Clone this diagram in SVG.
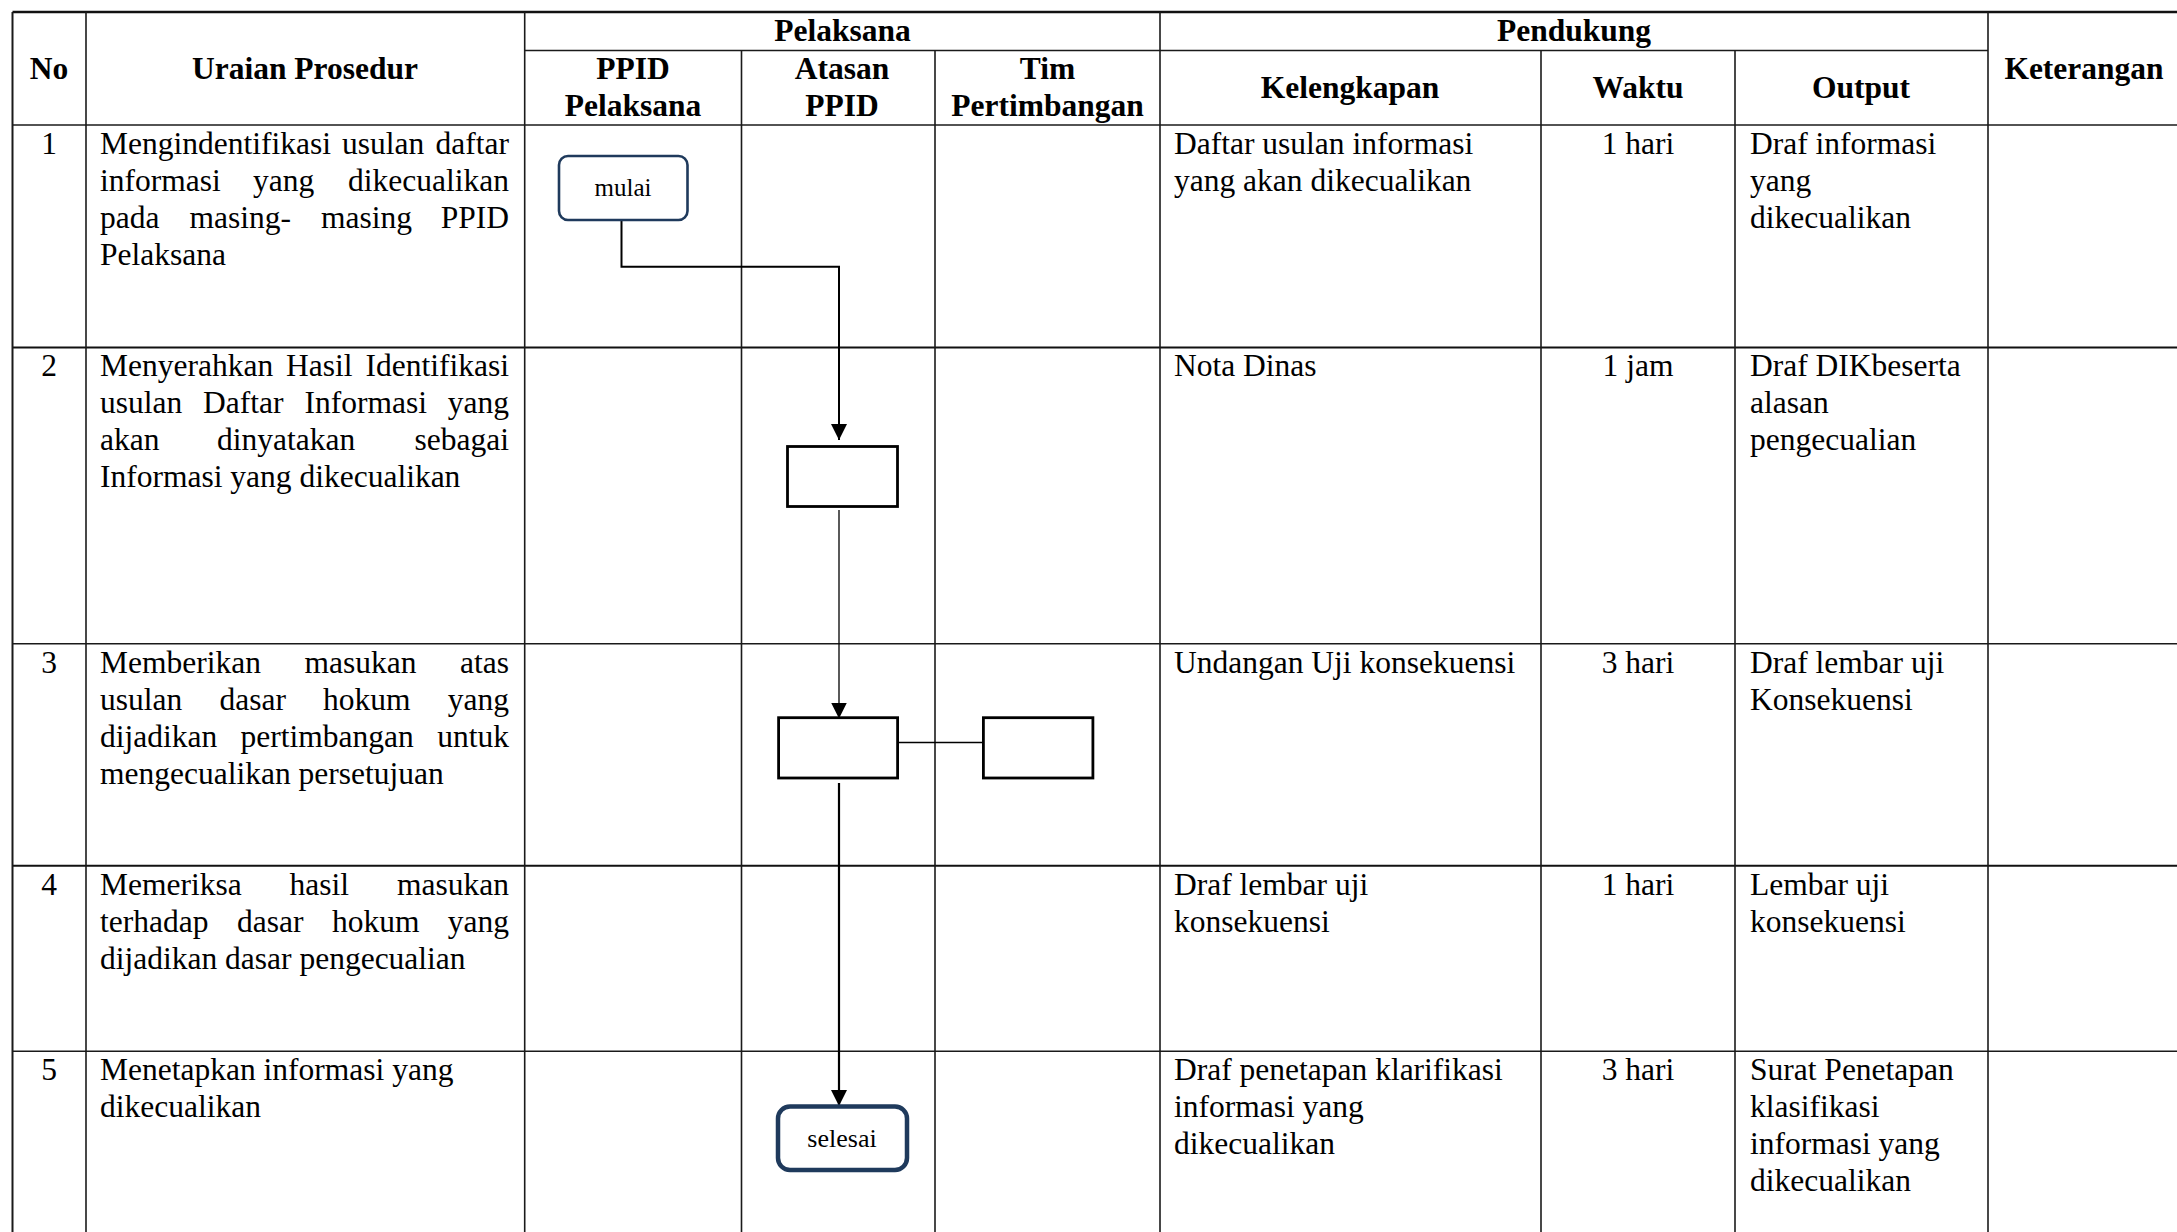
<svg xmlns="http://www.w3.org/2000/svg" width="2177" height="1232" viewBox="0 0 2177 1232">
<style>
.bg{fill:#fff}
.g{stroke:#1a1a1a;stroke-width:1.6;fill:none}
.gt{stroke:#111;stroke-width:2.6;fill:none}
.t{font-family:"Liberation Serif","Times New Roman",serif;font-size:31.5px;fill:#000}
.h{font-family:"Liberation Serif","Times New Roman",serif;font-size:31.5px;font-weight:700;fill:#000;text-anchor:middle}
.c{text-anchor:middle}
.r{text-anchor:end}
.box{fill:#fff;stroke:#000;stroke-width:2.8}
.term{fill:#fff;stroke:#1f3a5c}
.lbl{font-family:"Liberation Serif","Times New Roman",serif;fill:#000;text-anchor:middle}
.con{fill:none;stroke:#000}
</style>
<defs>
<marker id="arr" markerUnits="userSpaceOnUse" markerWidth="16" markerHeight="16" viewBox="0 0 16 16" refX="16" refY="8" orient="auto">
<path d="M0,0 L16,8 L0,16 z" fill="#000"/>
</marker>
</defs>
<rect class="bg" x="0" y="0" width="2177" height="1232"/>

<g id="grid">
<line class="gt" x1="12.5" y1="12" x2="2177" y2="12"/>
<line class="g" x1="525" y1="50.5" x2="1988" y2="50.5"/>
<line class="g" x1="12.5" y1="125" x2="2177" y2="125"/>
<line class="gt" x1="12.5" y1="347.6" x2="2177" y2="347.6" style="stroke-width:2"/>
<line class="g" x1="12.5" y1="643.7" x2="2177" y2="643.7"/>
<line class="gt" x1="12.5" y1="865.7" x2="2177" y2="865.7" style="stroke-width:2"/>
<line class="g" x1="12.5" y1="1051.3" x2="2177" y2="1051.3"/>
<line class="g" x1="12.5" y1="12" x2="12.5" y2="1232" style="stroke-width:2"/>
<line class="g" x1="86" y1="12" x2="86" y2="1232"/>
<line class="g" x1="524.7" y1="12" x2="524.7" y2="1232"/>
<line class="g" x1="741.5" y1="50.5" x2="741.5" y2="1232"/>
<line class="g" x1="935" y1="50.5" x2="935" y2="1232"/>
<line class="g" x1="1160" y1="12" x2="1160" y2="1232"/>
<line class="g" x1="1541" y1="50.5" x2="1541" y2="1232"/>
<line class="g" x1="1735" y1="50.5" x2="1735" y2="1232"/>
<line class="g" x1="1988" y1="12" x2="1988" y2="1232"/>
</g>

<g id="header">
<text class="h" x="49" y="79">No</text>
<text class="h" x="305" y="79">Uraian Prosedur</text>
<text class="h" x="842.5" y="41">Pelaksana</text>
<text class="h" x="1574" y="41">Pendukung</text>
<text class="h" x="633" y="79">PPID</text>
<text class="h" x="633" y="116">Pelaksana</text>
<text class="h" x="842" y="79">Atasan</text>
<text class="h" x="842" y="116">PPID</text>
<text class="h" x="1047.5" y="79">Tim</text>
<text class="h" x="1047.5" y="116">Pertimbangan</text>
<text class="h" x="1350" y="98">Kelengkapan</text>
<text class="h" x="1638" y="98">Waktu</text>
<text class="h" x="1861" y="98">Output</text>
<text class="h" x="2084" y="79">Keterangan</text>
</g>

<g id="row1">
<text class="t c" x="49" y="154">1</text>
<text class="t" y="154"><tspan x="100">Mengindentifikasi</tspan><tspan x="342">usulan</tspan><tspan x="509" class="r">daftar</tspan></text>
<text class="t" y="191"><tspan x="100">informasi</tspan><tspan x="253">yang</tspan><tspan x="509" class="r">dikecualikan</tspan></text>
<text class="t" y="228"><tspan x="100">pada</tspan><tspan x="189.5">masing-</tspan><tspan x="321">masing</tspan><tspan x="509" class="r">PPID</tspan></text>
<text class="t" x="100" y="265">Pelaksana</text>
<text class="t" x="1174" y="154">Daftar usulan informasi</text>
<text class="t" x="1174" y="191">yang akan dikecualikan</text>
<text class="t c" x="1638" y="154">1 hari</text>
<text class="t" x="1750" y="154">Draf informasi</text>
<text class="t" x="1750" y="191">yang</text>
<text class="t" x="1750" y="228">dikecualikan</text>
</g>

<g id="row2">
<text class="t c" x="49" y="376">2</text>
<text class="t" y="376"><tspan x="100">Menyerahkan</tspan><tspan x="286">Hasil</tspan><tspan x="509" class="r">Identifikasi</tspan></text>
<text class="t" y="413"><tspan x="100">usulan</tspan><tspan x="203">Daftar</tspan><tspan x="304.5">Informasi</tspan><tspan x="509" class="r">yang</tspan></text>
<text class="t" y="450"><tspan x="100">akan</tspan><tspan x="217">dinyatakan</tspan><tspan x="509" class="r">sebagai</tspan></text>
<text class="t" x="100" y="487">Informasi yang dikecualikan</text>
<text class="t" x="1174" y="376">Nota Dinas</text>
<text class="t c" x="1638" y="376">1 jam</text>
<text class="t" x="1750" y="376">Draf DIKbeserta</text>
<text class="t" x="1750" y="413">alasan</text>
<text class="t" x="1750" y="450">pengecualian</text>
</g>

<g id="row3">
<text class="t c" x="49" y="673">3</text>
<text class="t" y="673"><tspan x="100">Memberikan</tspan><tspan x="304.5">masukan</tspan><tspan x="509" class="r">atas</tspan></text>
<text class="t" y="710"><tspan x="100">usulan</tspan><tspan x="219.5">dasar</tspan><tspan x="323">hokum</tspan><tspan x="509" class="r">yang</tspan></text>
<text class="t" y="747"><tspan x="100">dijadikan</tspan><tspan x="240.5">pertimbangan</tspan><tspan x="509" class="r">untuk</tspan></text>
<text class="t" x="100" y="784">mengecualikan persetujuan</text>
<text class="t" x="1174" y="673">Undangan Uji konsekuensi</text>
<text class="t c" x="1638" y="673">3 hari</text>
<text class="t" x="1750" y="673">Draf lembar uji</text>
<text class="t" x="1750" y="710">Konsekuensi</text>
</g>

<g id="row4">
<text class="t c" x="49" y="895">4</text>
<text class="t" y="895"><tspan x="100">Memeriksa</tspan><tspan x="289.5">hasil</tspan><tspan x="509" class="r">masukan</tspan></text>
<text class="t" y="932"><tspan x="100">terhadap</tspan><tspan x="237">dasar</tspan><tspan x="332">hokum</tspan><tspan x="509" class="r">yang</tspan></text>
<text class="t" x="100" y="969">dijadikan dasar pengecualian</text>
<text class="t" x="1174" y="895">Draf lembar uji</text>
<text class="t" x="1174" y="932">konsekuensi</text>
<text class="t c" x="1638" y="895">1 hari</text>
<text class="t" x="1750" y="895">Lembar uji</text>
<text class="t" x="1750" y="932">konsekuensi</text>
</g>

<g id="row5">
<text class="t c" x="49" y="1080">5</text>
<text class="t" x="100" y="1080">Menetapkan informasi yang</text>
<text class="t" x="100" y="1117">dikecualikan</text>
<text class="t" x="1174" y="1080">Draf penetapan klarifikasi</text>
<text class="t" x="1174" y="1117">informasi yang</text>
<text class="t" x="1174" y="1154">dikecualikan</text>
<text class="t c" x="1638" y="1080">3 hari</text>
<text class="t" x="1750" y="1080">Surat Penetapan</text>
<text class="t" x="1750" y="1117">klasifikasi</text>
<text class="t" x="1750" y="1154">informasi yang</text>
<text class="t" x="1750" y="1191">dikecualikan</text>
</g>

<g id="connectors">
<path class="con" d="M621.5,220 V266.7 H839 V440" style="stroke-width:2" marker-end="url(#arr)"/>
<path class="con" d="M839,510 V718.5" style="stroke-width:1.3" marker-end="url(#arr)"/>
<path class="con" d="M897.6,742.5 H985" style="stroke-width:1.6"/>
<path class="con" d="M839,783 V1106" style="stroke-width:2.2" marker-end="url(#arr)"/>
</g>

<g id="node-mulai">
<rect class="term" x="559" y="156" width="128.5" height="64" rx="9" style="stroke-width:2.6"/>
<text class="lbl" x="623" y="196" font-size="25">mulai</text>
</g>
<g id="node-step2">
<rect class="box" x="787.5" y="446.5" width="110" height="60"/>
</g>
<g id="node-step3">
<rect class="box" x="778.6" y="717.7" width="119" height="60.3"/>
</g>
<g id="node-step3b">
<rect class="box" x="983.4" y="717.7" width="109.5" height="60.3"/>
</g>
<g id="node-selesai">
<rect class="term" x="778" y="1106.5" width="129" height="63.5" rx="12" style="stroke-width:4.5"/>
<text class="lbl" x="842" y="1147" font-size="26">selesai</text>
</g>
</svg>
